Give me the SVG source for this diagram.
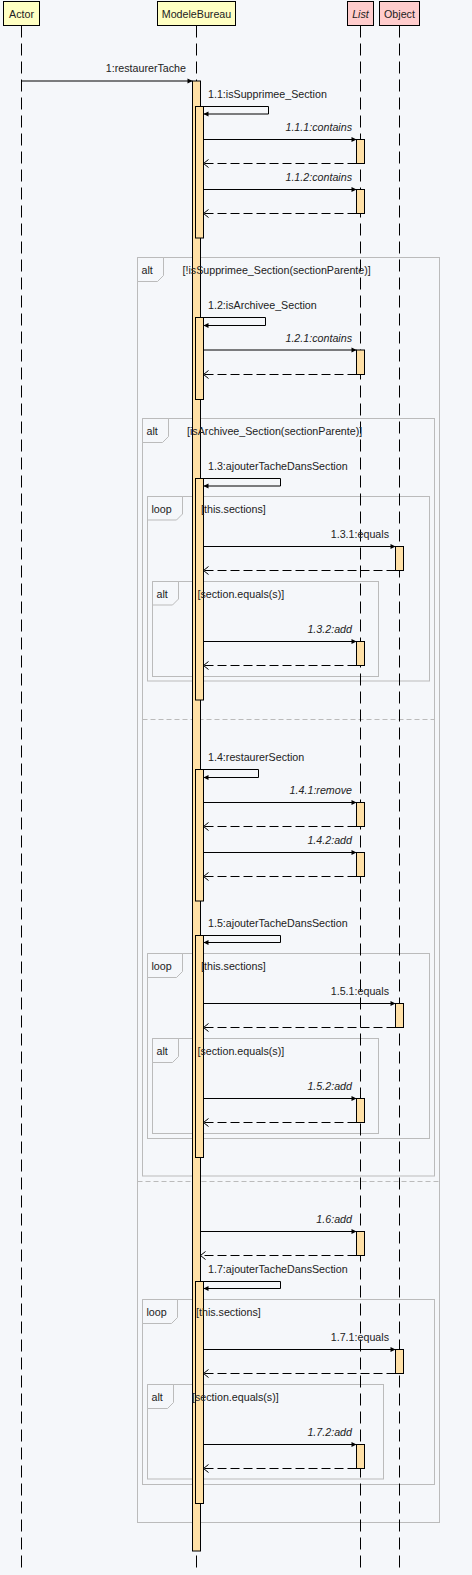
<svg xmlns="http://www.w3.org/2000/svg" width="472" height="1575" viewBox="0 0 472 1575">
<defs>
<style>
text{font-family:"Liberation Sans",Arial,sans-serif;font-size:10.7px;fill:#222}
.it{font-style:italic}
.e{text-anchor:end}
.m{text-anchor:middle}
.frame{fill:none;stroke:#bbb;stroke-width:1}
.tab{fill:#f5f7fa;stroke:#bbb;stroke-width:1}
.sep{stroke:#bbb;stroke-width:1;stroke-dasharray:5,3}
.life{stroke:#000;stroke-width:1;stroke-dasharray:12,6}
.act{fill:#ffe0a6;stroke:#000;stroke-width:1}
.call{fill:none;stroke:#000;stroke-width:1;marker-end:url(#fa)}
.ret{fill:none;stroke:#000;stroke-width:1;stroke-dasharray:9,4;marker-end:url(#oa)}
.hy{fill:#ffffc2;stroke:#000;stroke-width:1}
.hp{fill:#ffcccc;stroke:#000;stroke-width:1}
</style>
<marker id="fa" markerUnits="userSpaceOnUse" markerWidth="6" markerHeight="6" refX="5" refY="2.5" orient="auto" overflow="visible"><path d="M0,0 L5,2.5 L0,5 z" fill="#000"/></marker>
<marker id="oa" markerUnits="userSpaceOnUse" markerWidth="7" markerHeight="9" refX="5" refY="4" orient="auto" overflow="visible"><path d="M0,0 L5,4 L0,8" fill="none" stroke="#000" stroke-width="1"/></marker>
</defs>
<rect width="472" height="1575" fill="#f5f7fa"/>

<g id="frames">
<g id="alt1">
<rect class="frame" x="137.5" y="257.5" width="302" height="1265"/>
<path class="tab" d="M137.5,257.5 H163.5 V275.5 L157.5,281.5 H137.5 Z"/>
<line class="sep" x1="137.5" y1="1181.5" x2="439.5" y2="1181.5"/>
</g>
<g id="alt2">
<rect class="frame" x="142.5" y="418.5" width="292" height="757.5"/>
<path class="tab" d="M142.5,418.5 H168.5 V436.5 L162.5,442.5 H142.5 Z"/>
<line class="sep" x1="142.5" y1="719.5" x2="434.5" y2="719.5"/>
</g>
<g id="loop1">
<rect class="frame" x="147.5" y="496.5" width="282" height="184.5"/>
<path class="tab" d="M147.5,496.5 H182.5 V514 L176.5,520 H147.5 Z"/>
</g>
<g id="alt3">
<rect class="frame" x="152.5" y="581.5" width="226" height="95"/>
<path class="tab" d="M152.5,581.5 H178.5 V599 L172.5,605 H152.5 Z"/>
</g>
<g id="loop2">
<rect class="frame" x="147.5" y="953.5" width="282" height="185"/>
<path class="tab" d="M147.5,953.5 H182.5 V971.5 L176.5,977.5 H147.5 Z"/>
</g>
<g id="alt4">
<rect class="frame" x="152.5" y="1038.5" width="226" height="95"/>
<path class="tab" d="M152.5,1038.5 H178.5 V1056.5 L172.5,1062.5 H152.5 Z"/>
</g>
<g id="loop3">
<rect class="frame" x="142.5" y="1299.5" width="292" height="185"/>
<path class="tab" d="M142.5,1299.5 H177.5 V1317.5 L171.5,1323.5 H142.5 Z"/>
</g>
<g id="alt5">
<rect class="frame" x="147.5" y="1384.5" width="236" height="94.5"/>
<path class="tab" d="M147.5,1384.5 H173.5 V1402.5 L167.5,1408.5 H147.5 Z"/>
</g>
</g>

<g id="Actor">
<rect class="hy" x="3.5" y="1.5" width="36" height="24"/>
<text class="m" x="21.5" y="18">Actor</text>
<line class="life" x1="21.5" y1="25.5" x2="21.5" y2="1568"/>
</g>
<g id="ModeleBureau">
<rect class="hy" x="157.5" y="1.5" width="78" height="24"/>
<text class="m" x="196.5" y="18">ModeleBureau</text>
<line class="life" x1="196.5" y1="25.5" x2="196.5" y2="1568"/>
</g>
<g id="List">
<rect class="hp" x="347.5" y="1.5" width="26" height="24"/>
<text class="m it" x="360.5" y="18">List</text>
<line class="life" x1="360.5" y1="25.5" x2="360.5" y2="1568"/>
</g>
<g id="Object">
<rect class="hp" x="379.5" y="1.5" width="40" height="24"/>
<text class="m" x="399.5" y="18">Object</text>
<line class="life" x1="399.5" y1="25.5" x2="399.5" y2="1568"/>
</g>

<g id="activations">
<rect class="act" x="192.5" y="81" width="8" height="1470"/>
<rect class="act" x="195.5" y="106.5" width="8" height="131.5"/>
<rect class="act" x="195.5" y="317.5" width="8" height="82"/>
<rect class="act" x="195.5" y="478.5" width="8" height="221.5"/>
<rect class="act" x="195.5" y="769.5" width="8" height="131.5"/>
<rect class="act" x="195.5" y="935.5" width="8" height="222"/>
<rect class="act" x="195.5" y="1281.5" width="8" height="222"/>
<rect class="act" x="356.5" y="139.5" width="8" height="24"/>
<rect class="act" x="356.5" y="189.5" width="8" height="24"/>
<rect class="act" x="356.5" y="350" width="8" height="24.5"/>
<rect class="act" x="356.5" y="641.5" width="8" height="24"/>
<rect class="act" x="356.5" y="802.5" width="8" height="24"/>
<rect class="act" x="356.5" y="852.5" width="8" height="24"/>
<rect class="act" x="356.5" y="1098.5" width="8" height="24"/>
<rect class="act" x="356.5" y="1231.5" width="8" height="24"/>
<rect class="act" x="356.5" y="1444.5" width="8" height="24"/>
<rect class="act" x="395.5" y="546.5" width="8" height="24"/>
<rect class="act" x="395.5" y="1003.5" width="8" height="24"/>
<rect class="act" x="395.5" y="1349.5" width="8" height="24"/>
</g>

<g id="connectors">
<line class="call" x1="21.5" y1="81" x2="192.5" y2="81"/>
<polyline class="call" points="203.5,106.5 268.5,106.5 268.5,114 203.5,114"/>
<line class="call" x1="203.5" y1="139.5" x2="356.5" y2="139.5"/>
<line class="ret" x1="356.5" y1="163.5" x2="203.5" y2="163.5"/>
<line class="call" x1="203.5" y1="189.5" x2="356.5" y2="189.5"/>
<line class="ret" x1="356.5" y1="213.5" x2="203.5" y2="213.5"/>
<polyline class="call" points="203.5,317.5 265.5,317.5 265.5,325.5 203.5,325.5"/>
<line class="call" x1="203.5" y1="350" x2="356.5" y2="350"/>
<line class="ret" x1="356.5" y1="374.5" x2="203.5" y2="374.5"/>
<polyline class="call" points="203.5,478.5 280.5,478.5 280.5,486 203.5,486"/>
<line class="call" x1="203.5" y1="546.5" x2="395.5" y2="546.5"/>
<line class="ret" x1="395.5" y1="570.5" x2="203.5" y2="570.5"/>
<line class="call" x1="203.5" y1="641.5" x2="356.5" y2="641.5"/>
<line class="ret" x1="356.5" y1="665.5" x2="203.5" y2="665.5"/>
<polyline class="call" points="203.5,769.5 258.5,769.5 258.5,777.5 203.5,777.5"/>
<line class="call" x1="203.5" y1="802.5" x2="356.5" y2="802.5"/>
<line class="ret" x1="356.5" y1="826.5" x2="203.5" y2="826.5"/>
<line class="call" x1="203.5" y1="852.5" x2="356.5" y2="852.5"/>
<line class="ret" x1="356.5" y1="876.5" x2="203.5" y2="876.5"/>
<polyline class="call" points="203.5,935.5 280.5,935.5 280.5,942.5 203.5,942.5"/>
<line class="call" x1="203.5" y1="1003.5" x2="395.5" y2="1003.5"/>
<line class="ret" x1="395.5" y1="1027.5" x2="203.5" y2="1027.5"/>
<line class="call" x1="203.5" y1="1098.5" x2="356.5" y2="1098.5"/>
<line class="ret" x1="356.5" y1="1122.5" x2="203.5" y2="1122.5"/>
<line class="call" x1="200.5" y1="1231.5" x2="356.5" y2="1231.5"/>
<line class="ret" x1="356.5" y1="1255.5" x2="200.5" y2="1255.5"/>
<polyline class="call" points="203.5,1281.5 280.5,1281.5 280.5,1288.5 203.5,1288.5"/>
<line class="call" x1="203.5" y1="1349.5" x2="395.5" y2="1349.5"/>
<line class="ret" x1="395.5" y1="1373.5" x2="203.5" y2="1373.5"/>
<line class="call" x1="203.5" y1="1444.5" x2="356.5" y2="1444.5"/>
<line class="ret" x1="356.5" y1="1468.5" x2="203.5" y2="1468.5"/>
</g>

<g id="labels">
<text x="141.5" y="274">alt</text>
<text x="182.5" y="274">[!isSupprimee_Section(sectionParente)]</text>
<text x="146.5" y="435">alt</text>
<text x="187" y="435">[isArchivee_Section(sectionParente)]</text>
<text x="151.5" y="512.5">loop</text>
<text x="201" y="512.5">[this.sections]</text>
<text x="156.5" y="597.5">alt</text>
<text x="197.5" y="597.5">[section.equals(s)]</text>
<text x="151.5" y="969.5">loop</text>
<text x="201" y="969.5">[this.sections]</text>
<text x="156.5" y="1054.5">alt</text>
<text x="197.5" y="1054.5">[section.equals(s)]</text>
<text x="146.5" y="1315.5">loop</text>
<text x="196" y="1315.5">[this.sections]</text>
<text x="151.5" y="1400.5">alt</text>
<text x="192" y="1400.5">[section.equals(s)]</text>

<text class="e" x="186" y="72">1:restaurerTache</text>
<text x="208" y="98">1.1:isSupprimee_Section</text>
<text class="e it" x="352" y="131">1.1.1:contains</text>
<text class="e it" x="352" y="181">1.1.2:contains</text>
<text x="208" y="309">1.2:isArchivee_Section</text>
<text class="e it" x="352" y="341.5">1.2.1:contains</text>
<text x="208" y="470">1.3:ajouterTacheDansSection</text>
<text class="e" x="389" y="538">1.3.1:equals</text>
<text class="e it" x="352" y="633">1.3.2:add</text>
<text x="208" y="761">1.4:restaurerSection</text>
<text class="e it" x="352" y="794">1.4.1:remove</text>
<text class="e it" x="352" y="844">1.4.2:add</text>
<text x="208" y="927">1.5:ajouterTacheDansSection</text>
<text class="e" x="389" y="995">1.5.1:equals</text>
<text class="e it" x="352" y="1090">1.5.2:add</text>
<text class="e it" x="352" y="1223">1.6:add</text>
<text x="208" y="1273">1.7:ajouterTacheDansSection</text>
<text class="e" x="389" y="1340.5">1.7.1:equals</text>
<text class="e it" x="352" y="1436">1.7.2:add</text>
</g>
</svg>
